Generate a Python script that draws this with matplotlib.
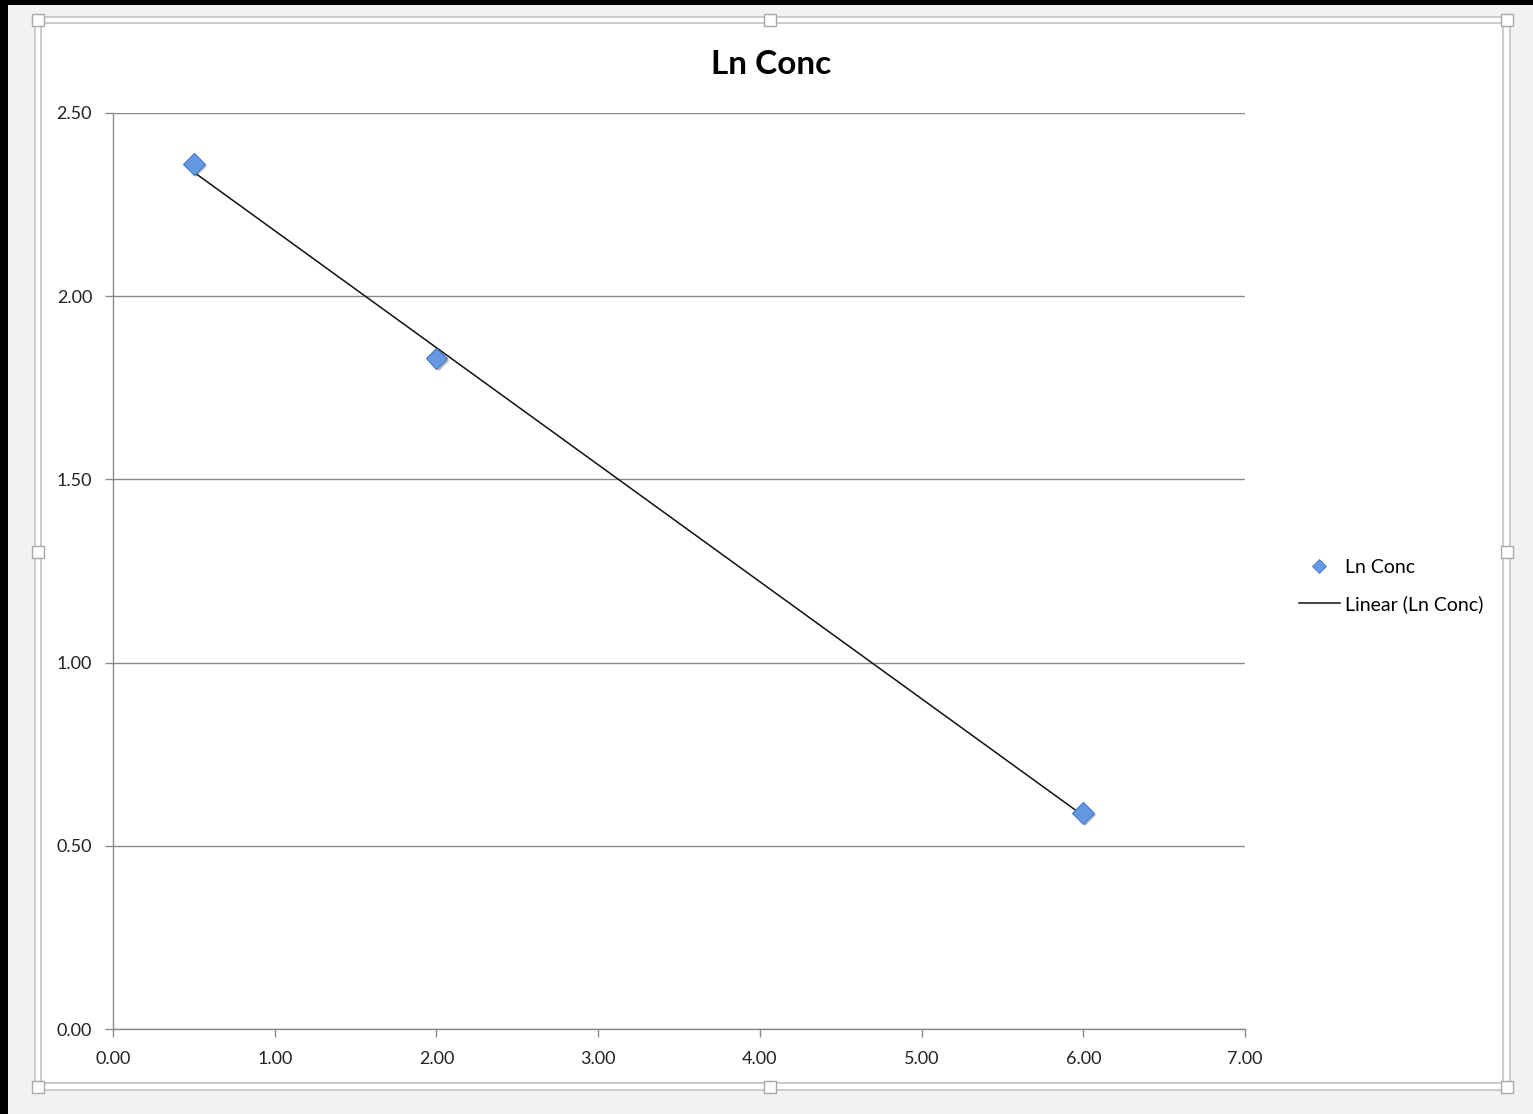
import numpy as np
import matplotlib
matplotlib.use("Agg")
import matplotlib.pyplot as plt
from matplotlib.patches import Rectangle
from matplotlib.lines import Line2D
import matplotlib.patheffects as pe

# Data
time = [0.5, 2.0, 6.0]
ln_conc = [2.36, 1.83, 0.59]
x_ticks = [0, 1, 2, 3, 4, 5, 6, 7]
y_ticks = [0.0, 0.5, 1.0, 1.5, 2.0, 2.5]
title = "Ln Conc"
series_label = "Ln Conc"
trend_label = "Linear (Ln Conc)"

W, H = 1533, 1114
plt.rcParams['font.family'] = ['Lato', 'DejaVu Sans']
fig = plt.figure(figsize=(W / 100, H / 100), dpi=100, facecolor='#f2f2f2')

def fx(px):
    return px / W

def fy(py):
    return 1 - py / H

# black bands (screen edge)
fig.patches.append(Rectangle((0, 0), fx(8), 1, transform=fig.transFigure,
                             facecolor='black', edgecolor='none', zorder=-3))
fig.patches.append(Rectangle((0, fy(5)), 1, 1 - fy(5), transform=fig.transFigure,
                             facecolor='black', edgecolor='none', zorder=-3))
# white chart box with double border
fig.patches.append(Rectangle((fx(35), fy(1090)), fx(1510 - 35), (1090 - 17) / H,
                             transform=fig.transFigure, facecolor='white',
                             edgecolor='#c4c4c4', linewidth=1.2, zorder=-2))
fig.patches.append(Rectangle((fx(41), fy(1083)), fx(1503 - 41), (1083 - 23) / H,
                             transform=fig.transFigure, facecolor='white',
                             edgecolor='#c4c4c4', linewidth=1.2, zorder=-1))
# handles
hs = 12
for (hx, hy) in [(38, 20), (770, 20), (1507, 20), (38, 552), (1507, 552),
                 (38, 1087), (770, 1087), (1507, 1087)]:
    fig.patches.append(Rectangle((fx(hx - hs / 2), fy(hy + hs / 2)), hs / W, hs / H,
                                 transform=fig.transFigure, facecolor='white',
                                 edgecolor='#a8a8a8', linewidth=1.0, zorder=5))

ax = fig.add_axes([fx(113), fy(1029), fx(1245 - 113), (1029 - 113) / H])
ax.set_zorder(1)
ax.set_facecolor('white')
ax.set_xlim(0, 7)
ax.set_ylim(0, 2.5)
ax.set_xticks(x_ticks)
ax.set_yticks(y_ticks)
ax.set_xticklabels([f"{v:.2f}" for v in x_ticks])
ax.set_yticklabels([f"{v:.2f}" for v in y_ticks])
grid_c = '#8a8a8a'
ax.yaxis.grid(True, color=grid_c, linewidth=1.0)
ax.set_axisbelow(True)
for s in ['top', 'right']:
    ax.spines[s].set_visible(False)
for s in ['left', 'bottom']:
    ax.spines[s].set_color(grid_c)
    ax.spines[s].set_linewidth(1.0)
ax.tick_params(axis='both', direction='out', length=6, width=1.0, color=grid_c,
               labelsize=13, labelcolor='#222222')
ax.tick_params(axis='y', pad=9)
ax.tick_params(axis='x', pad=10)

# trendline
coef = np.polyfit(time, ln_conc, 1)
tx = np.array([min(time), max(time)])
ax.plot(tx, np.polyval(coef, tx), color='#111111', linewidth=1.1, zorder=3)

# markers
ax.plot(time, ln_conc, linestyle='none', marker='D', markersize=11,
        markerfacecolor='#6499e2', markeredgecolor='#4677c8', markeredgewidth=0.8,
        zorder=4, clip_on=False,
        path_effects=[pe.SimplePatchShadow(offset=(1.5, -1.5), alpha=0.35), pe.Normal()])

fig.text(fx(771), fy(64), title, ha='center', va='center', fontsize=24,
         fontweight='bold', color='black')

handles = [Line2D([], [], linestyle='none', marker='D', markersize=7,
                  markerfacecolor='#6499e2', markeredgecolor='#4677c8', markeredgewidth=0.6),
           Line2D([], [], color='#111111', linewidth=1.1)]
fig.legend(handles, [series_label, trend_label], loc='center left',
           bbox_to_anchor=(fx(1289), fy(586)), frameon=False, fontsize=14,
           handlelength=2.1, handletextpad=0.3, labelspacing=1.0, borderpad=0)

fig.savefig('out.png', dpi=100, facecolor=fig.get_facecolor())
